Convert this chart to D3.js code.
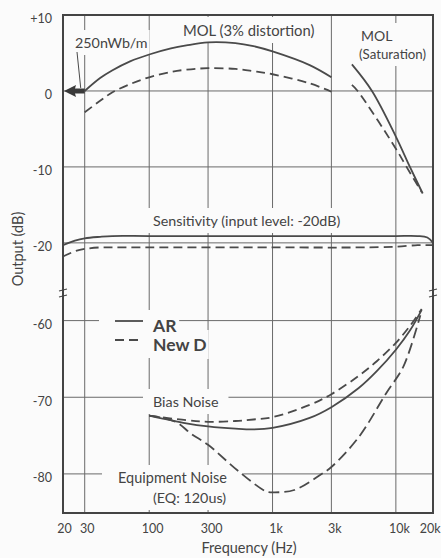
<!DOCTYPE html>
<html>
<head>
<meta charset="utf-8">
<script src="https://cdn.jsdelivr.net/npm/d3@7"></script>
<style>
  body { margin: 0; background: #fbfbfb; }
  text { font-family: Lato, "Open Sans", sans-serif; fill: #444; }
</style>
</head>
<body>
<div id="container"></div>
<script>
// tape output curves, AR vs New D

// ticks
const freqTicks = [20, 30, 100, 300, 1000, 3000, 10000, 20000]
const freqTickLabels = ["20", "30", "100", "300", "1k", "3k", "10k", "20k"]
const gridFreqs = [30, 100, 300, 1000, 3000, 10000]
const dbTicks = [10, 0, -10, -20, -60, -70, -80]
const dbTickLabels = ["+10", "0", "-10", "-20", "-60", "-70", "-80"]
const gridDb = [0, -10, -20, -60, -70, -80]

// MOL (3% distortion)
const molFreq = [30, 40, 50, 70, 100, 150, 200, 300, 500, 700, 1000, 2000, 3000]
const molAr = [0, 1.7, 2.7, 3.9, 4.8, 5.6, 6.0, 6.4, 6.3, 5.9, 5.2, 3.4, 1.8]
const molNewD = [-2.8, -1.3, -0.2, 0.9, 1.8, 2.5, 2.8, 3.0, 2.9, 2.6, 2.2, 1.0, -0.1]

// MOL (saturation)
const satArFreq = [4400, 6400, 10000, 13000, 16500]
const satAr = [3.5, 0, -6.0, -10, -13.5]
const satNewDFreq = [4400, 4900, 10000, 12200, 16200]
const satNewD = [0.8, 0, -7.6, -10, -13.3]

// Sensitivity (input level -20dB)
const sensFreq = [20, 25, 30, 40, 50, 100, 1000, 5000, 10000, 15000, 18000, 20000]
const sensAr = [-20.3, -19.7, -19.4, -19.2, -19.1, -19.1, -19.1, -19.1, -19.1, -19.1, -19.3, -20.0]
const sensNewD = [-21.8, -21.1, -20.8, -20.6, -20.6, -20.6, -20.6, -20.6, -20.5, -20.3, -20.3, -20.3]

// Bias noise
const biasFreq = [100, 200, 300, 500, 700, 1000, 2000, 3000, 5000, 7000, 10000, 13000, 16200]
const biasAr = [-72.4, -73.4, -73.8, -74.1, -74.2, -74.0, -72.7, -71.3, -68.8, -66.6, -63.8, -61.3, -58.6]
const biasNewD = [-72.4, -73.0, -73.2, -73.1, -72.9, -72.6, -71.0, -69.6, -67.2, -65.3, -62.9, -60.7, -58.5]

// Equipment noise (EQ: 120us), one curve
const eqFreq = [100, 130, 168, 220, 300, 534, 890, 1000, 1500, 2500, 3000, 5000, 8400, 11500, 15800]
const eqNoise = [-72.4, -72.7, -73.3, -74.8, -76.2, -79.7, -82.3, -82.4, -82.1, -80.0, -79.1, -75.2, -69.4, -66.0, -59.3]

const width = 441, height = 558
const plot = { left: 63, right: 433, top: 15, bottom: 513 }
const ink = "#4a4a4a"
const paper = "#fbfbfb"

const svg = d3.select("#container")
  .append("svg")
  .attr("width", width)
  .attr("height", height)

// scales - y has a break between -26.6 and -56.4
const x = d3.scaleLog()
  .domain([20, 20000])
  .range([plot.left, plot.right])

const y = d3.scaleLinear()
  .domain([10, -26.6, -56.4, -85.1])
  .range([plot.top, 293, 293, plot.bottom])

// grid
svg.append("g")
  .selectAll("line")
  .data(gridFreqs)
  .join("line")
  .attr("x1", d => x(d)).attr("x2", d => x(d))
  .attr("y1", plot.top).attr("y2", plot.bottom)
  .attr("stroke", "#6a6a6a").attr("stroke-width", 1)

svg.append("g")
  .selectAll("line")
  .data(gridDb)
  .join("line")
  .attr("x1", plot.left).attr("x2", plot.right)
  .attr("y1", d => y(d)).attr("y2", d => y(d))
  .attr("stroke", "#6a6a6a").attr("stroke-width", 1)

// knockout layer (labels sit in white gaps of the grid)
const knock = svg.append("g")
const labels = svg.append("g")

function label(txt, lx, ly, size, opts = {}) {
  const t = labels.append("text")
    .attr("x", lx).attr("y", ly)
    .attr("font-size", size)
    .attr("font-weight", opts.bold ? "bold" : null)
    .text(txt)
  const b = t.node().getBBox()
  const px = opts.padX ?? 10, py = opts.padY ?? 4
  knock.append("rect")
    .attr("x", b.x - px).attr("y", b.y - py)
    .attr("width", b.width + 2 * px).attr("height", b.height + 2 * py)
    .attr("fill", paper)
  return b
}

label("250nWb/m", 75, 48, 14.3, { padX: 2 })
label("MOL (3% distortion)", 183, 36, 14.8)
label("MOL", 361, 41, 14)
label("(Saturation)", 359, 59, 13.3, { padX: 2 })
label("Sensitivity (input level: -20dB)", 153, 226, 14.3)
label("Bias Noise", 153, 407, 14.3)
label("Equipment Noise", 118, 483, 14.5, { padX: 16 })
label("(EQ: 120us)", 153, 503, 14.3, { padX: 16 })

// curves
const lineGen = d3.line()
  .x(d => x(d[0]))
  .y(d => y(d[1]))
  .curve(d3.curveCatmullRom.alpha(0.5))

const series = [
  { f: molFreq, v: molAr, dash: null },
  { f: molFreq, v: molNewD, dash: "9,5" },
  { f: satArFreq, v: satAr, dash: null },
  { f: satNewDFreq, v: satNewD, dash: "9,5" },
  { f: sensFreq, v: sensAr, dash: null },
  { f: sensFreq, v: sensNewD, dash: "9,5" },
  { f: biasFreq, v: biasAr, dash: null },
  { f: biasFreq, v: biasNewD, dash: "9,5" },
  { f: eqFreq, v: eqNoise, dash: "11,5" }
]

svg.append("g")
  .selectAll("path")
  .data(series)
  .join("path")
  .attr("d", d => lineGen(d3.zip(d.f, d.v)))
  .attr("fill", "none")
  .attr("stroke", ink)
  .attr("stroke-width", 1.8)
  .attr("stroke-dasharray", d => d.dash)

// 250nWb/m reference arrow at 0 dB
const ay = y(0), ax0 = x(20), ax1 = x(30)
svg.append("path")
  .attr("d", `M${ax0 + 1},${ay} L${ax0 + 13},${ay - 6} L${ax0 + 12},${ay - 2.5} L${ax1},${ay - 2.5} L${ax1},${ay + 2.5} L${ax0 + 12},${ay + 2.5} L${ax0 + 13},${ay + 6} Z`)
  .attr("fill", "#3a3a3a")

svg.append("line")
  .attr("x1", 77).attr("y1", 52)
  .attr("x2", ax1 - 4).attr("y2", ay - 3)
  .attr("stroke", ink).attr("stroke-width", 1)

// legend
const legend = [
  { name: "AR", dash: null, ly: 332 },
  { name: "New D", dash: "9,5", ly: 351 }
]
legend.forEach(l => {
  const b = label(l.name, 153, l.ly, 17.5, { bold: true, padX: 2, padY: 4 })
  knock.append("rect")
    .attr("x", 99).attr("y", b.y - 5)
    .attr("width", 54).attr("height", b.height + 8)
    .attr("fill", paper)
  svg.append("line")
    .attr("x1", 115).attr("x2", 143)
    .attr("y1", l.ly - 11).attr("y2", l.ly - 11)
    .attr("stroke", ink).attr("stroke-width", 1.8)
    .attr("stroke-dasharray", l.dash)
})

// frame
svg.append("rect")
  .attr("x", plot.left).attr("y", plot.top)
  .attr("width", plot.right - plot.left).attr("height", plot.bottom - plot.top)
  .attr("fill", "none").attr("stroke", "#444").attr("stroke-width", 2)

// axis break marks
const by = y(-26.6)
svg.append("g")
  .selectAll("path")
  .data([plot.left, plot.right])
  .join("path")
  .attr("d", d => `M${d - 4},${by - 2} L${d + 4},${by - 4} M${d - 4},${by + 4} L${d + 4},${by + 2}`)
  .attr("stroke", "#444").attr("stroke-width", 1.2)

// axes (labels only)
const yAxis = d3.axisLeft(y)
  .tickValues(dbTicks)
  .tickFormat((d, i) => dbTickLabels[i])
  .tickSize(0)
  .tickPadding(11)

const yAxisGroup = svg.append("g")
  .attr("transform", `translate(${plot.left}, 0)`)
  .call(yAxis)
yAxisGroup.select(".domain").remove()
yAxisGroup.selectAll("text")
  .attr("font-family", null).attr("font-size", 12.5).attr("dy", "0.62em").attr("fill", "#444")

const xAxis = d3.axisBottom(x)
  .tickValues(freqTicks)
  .tickFormat((d, i) => freqTickLabels[i])
  .tickSize(0)
  .tickPadding(11)

const xAxisGroup = svg.append("g")
  .attr("transform", `translate(0, ${plot.bottom})`)
  .call(xAxis)
xAxisGroup.select(".domain").remove()
xAxisGroup.selectAll("text")
  .attr("font-family", null).attr("font-size", 12.5).attr("fill", "#444")
  .attr("dx", (d, i) => i === 0 ? 1 : (i === 1 ? 2 : 3))
xAxisGroup.selectAll("text")
  .filter(d => d === 20000)
  .attr("text-anchor", "end")
  .attr("dx", width - 1 - plot.right)

svg.append("text")
  .attr("x", 249).attr("y", 553)
  .attr("text-anchor", "middle")
  .attr("font-size", 14.5)
  .text("Frequency (Hz)")

svg.append("text")
  .attr("transform", `translate(23, 249) rotate(-90)`)
  .attr("text-anchor", "middle")
  .attr("font-size", 14.5)
  .text("Output (dB)")
</script>
</body>
</html>
